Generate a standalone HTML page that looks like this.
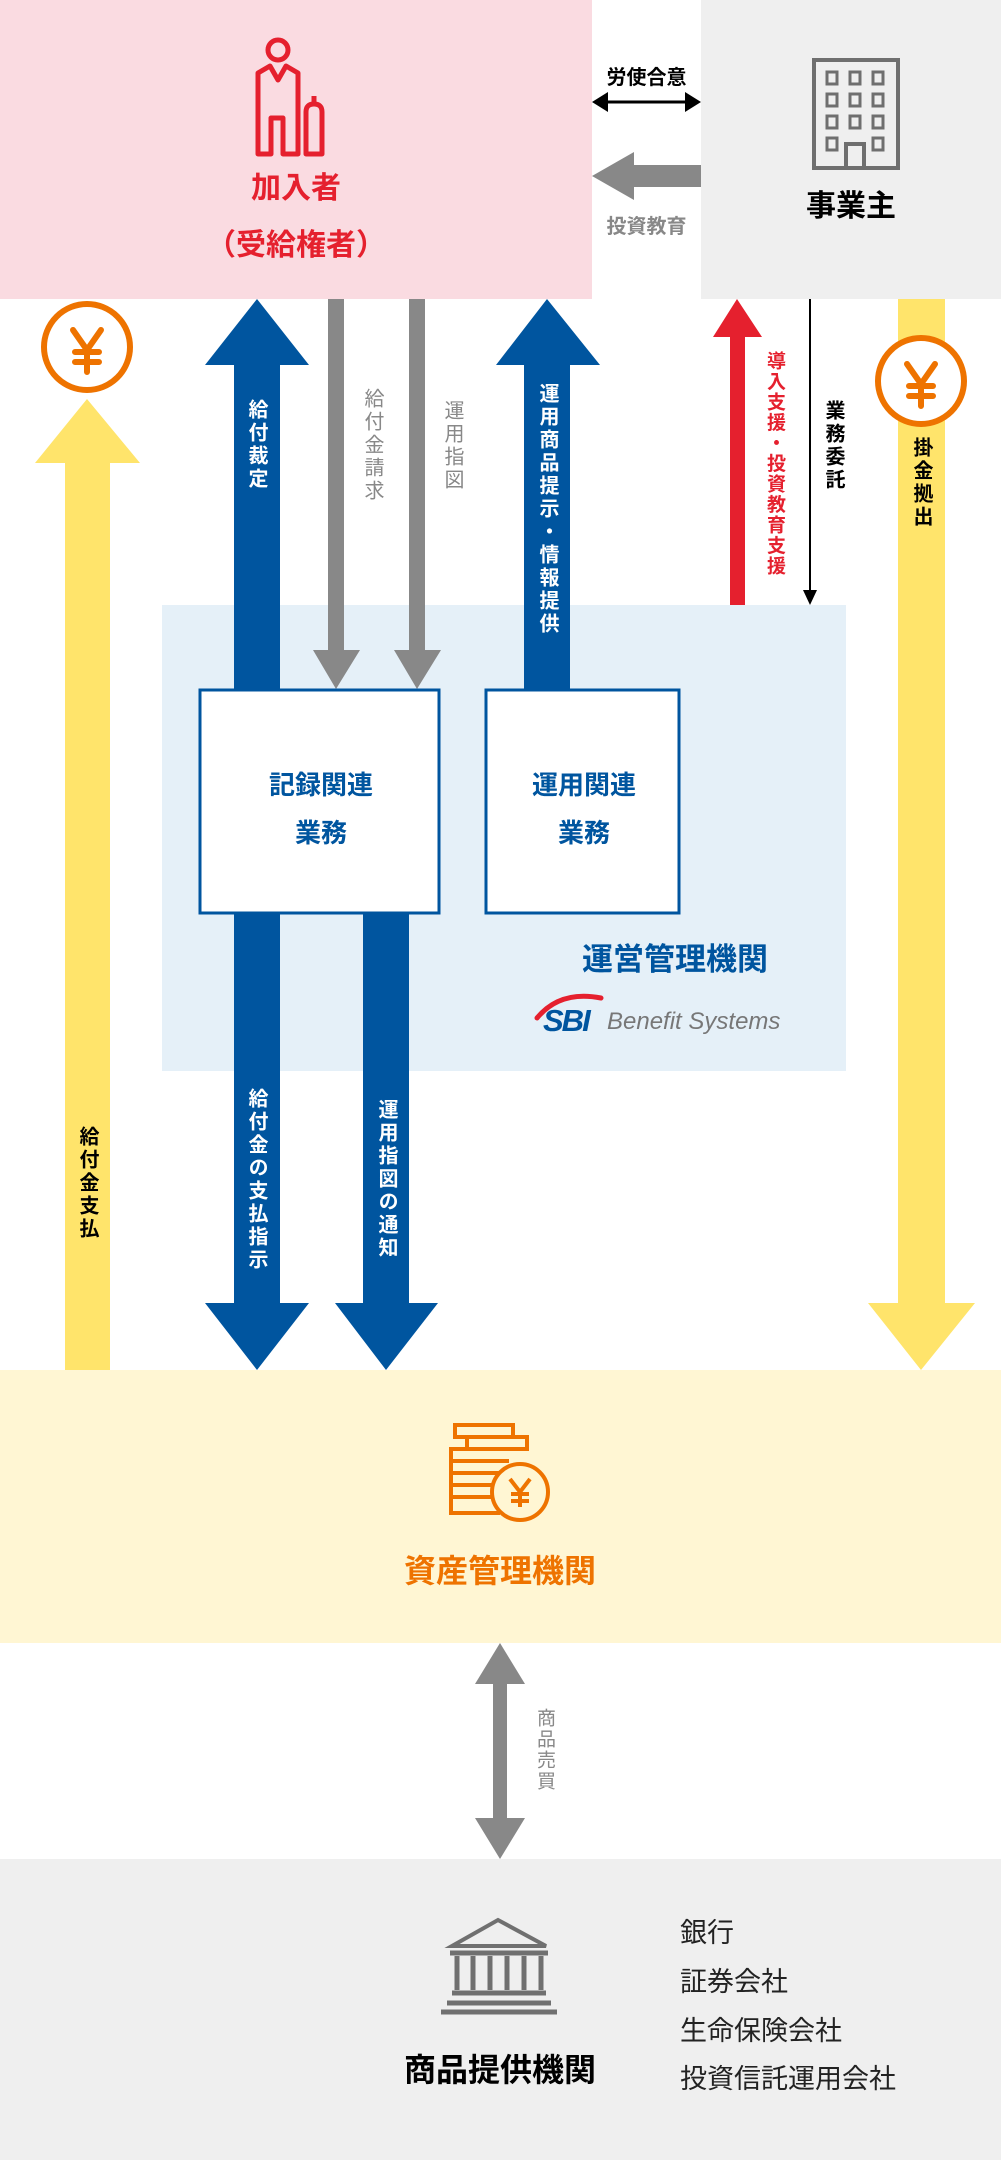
<!DOCTYPE html>
<html><head><meta charset="utf-8"><style>
body{margin:0;width:1001px;height:2160px;position:relative;background:#fff;overflow:hidden;font-family:"Liberation Sans","Noto Sans CJK JP",sans-serif}
.t{position:absolute;white-space:nowrap;font-weight:bold;line-height:1}
.v{position:absolute;writing-mode:vertical-rl;white-space:nowrap;font-weight:bold;line-height:1;font-size:20px;letter-spacing:3px}
svg{position:absolute;left:0;top:0}
</style></head><body>
<svg width="1001" height="2160" viewBox="0 0 1001 2160">
<rect x="0" y="0" width="592" height="299" fill="#fadbe1"/>
<rect x="701" y="0" width="300" height="299" fill="#efefef"/>
<rect x="162" y="605" width="684" height="466" fill="#e5f0f8"/>
<rect x="0" y="1370" width="1001" height="273" fill="#fff6d3"/>
<rect x="0" y="1859" width="1001" height="301" fill="#efefef"/>
<line x1="605" y1="102" x2="688" y2="102" stroke="#000" stroke-width="3"/>
<polygon points="592,102 608,92 608,112" fill="#000"/>
<polygon points="701,102 685,92 685,112" fill="#000"/>
<polygon points="592,176 634,152 634,165 701,165 701,187 634,187 634,200" fill="#888"/>
<g fill="none" stroke="#e5202e" stroke-width="5" stroke-linejoin="round">
<circle cx="278" cy="50" r="10"/>
<path d="M258,154 V73 L270,66 L278,80 L286,66 L298,73 V154 H283 V118 H271 V154 Z"/>
<path d="M306,154 V112 Q306,104 314,104 Q322,104 322,112 V154 Z"/>
<line x1="314" y1="96" x2="314" y2="104"/>
</g>
<g fill="none" stroke="#6f6f6f" stroke-width="4">
<rect x="814" y="60" width="84" height="108"/>
<g stroke-width="3">
<rect x="827" y="72" width="10" height="12"/><rect x="850" y="72" width="10" height="12"/><rect x="873" y="72" width="10" height="12"/>
<rect x="827" y="94" width="10" height="12"/><rect x="850" y="94" width="10" height="12"/><rect x="873" y="94" width="10" height="12"/>
<rect x="827" y="116" width="10" height="12"/><rect x="850" y="116" width="10" height="12"/><rect x="873" y="116" width="10" height="12"/>
<rect x="827" y="138" width="10" height="12"/><rect x="873" y="138" width="10" height="12"/>
</g>
<path d="M846,168 V144 H864 V168"/>
</g>
<polygon points="87,399 140,463 110,463 110,1370 65,1370 65,463 35,463" fill="#ffe46b"/>
<polygon points="898,299 945,299 945,1303 975,1303 921,1370 868,1303 898,1303" fill="#ffe46b"/>
<g fill="#fff" stroke="#ee7300" stroke-width="6">
<circle cx="87" cy="347" r="43"/><circle cx="921" cy="381" r="43"/>
</g>
<g stroke="#ee7300" stroke-width="6" fill="none" stroke-linecap="round">
<path d="M73,330 L87,350 L101,330 M87,350 V372 M75,352 H99 M75,362 H99"/>
<path d="M907,364 L921,384 L935,364 M921,384 V406 M909,386 H933 M909,396 H933"/>
</g>
<polygon points="257,299 309,365 280,365 280,700 234,700 234,365 205,365" fill="#00559f"/>
<polygon points="547,299 600,365 570,365 570,700 524,700 524,365 496,365" fill="#00559f"/>
<polygon points="328,299 344,299 344,650 360,650 336,689 313,650 328,650" fill="#888"/>
<polygon points="409,299 425,299 425,650 441,650 417,689 394,650 409,650" fill="#888"/>
<polygon points="737,299 762,337 745,337 745,605 730,605 730,337 713,337" fill="#e5202e"/>
<line x1="810" y1="299" x2="810" y2="592" stroke="#000" stroke-width="2"/>
<polygon points="803,590 817,590 810,605" fill="#000"/>
<polygon points="234,905 280,905 280,1303 309,1303 257,1370 205,1303 234,1303" fill="#00559f"/>
<polygon points="363,905 409,905 409,1303 438,1303 386,1370 335,1303 363,1303" fill="#00559f"/>
<rect x="200" y="690" width="239" height="223" fill="#fff" stroke="#00559f" stroke-width="3"/>
<rect x="486" y="690" width="193" height="223" fill="#fff" stroke="#00559f" stroke-width="3"/>
<path d="M537,1018 Q560,990 601,998" fill="none" stroke="#e5202e" stroke-width="5" stroke-linecap="round"/>
<g fill="none" stroke="#ee7300" stroke-width="4">
<rect x="455" y="1425" width="58" height="12"/>
<rect x="467" y="1437" width="60" height="12"/>
<path d="M509,1449 H451 V1513 H500 M451,1461 H509 M451,1473 H505 M451,1485 H496 M451,1497 H494"/>
<circle cx="520" cy="1492" r="28" fill="#fff6d3"/>
</g>
<g stroke="#ee7300" stroke-width="4" fill="none">
<path d="M510,1479 L520,1492 L530,1479 M520,1492 V1507 M511,1494 H529 M511,1501 H529"/>
</g>
<polygon points="500,1643 525,1684 507,1684 507,1818 525,1818 500,1859 475,1818 493,1818 493,1684 475,1684" fill="#888"/>
<g fill="none" stroke="#707070" stroke-width="5">
<path d="M452,1946 L498,1920 L546,1946 Z" stroke-width="4"/>
<line x1="450" y1="1953" x2="548" y2="1953"/>
<line x1="457" y1="1956" x2="457" y2="1990"/><line x1="473" y1="1956" x2="473" y2="1990"/><line x1="490" y1="1956" x2="490" y2="1990"/><line x1="507" y1="1956" x2="507" y2="1990"/><line x1="524" y1="1956" x2="524" y2="1990"/><line x1="541" y1="1956" x2="541" y2="1990"/>
<line x1="452" y1="1993" x2="546" y2="1993"/>
<line x1="447" y1="2003" x2="551" y2="2003"/>
<line x1="441" y1="2012" x2="557" y2="2012"/>
</g>
</svg>

<div class="t" style="left:0;width:592px;top:174px;text-align:center;font-size:30px;color:#e5202e">加入者</div>
<div class="t" style="left:0;width:592px;top:231px;text-align:center;font-size:30px;color:#e5202e">（受給権者）</div>
<div class="t" style="left:592px;width:109px;top:68px;text-align:center;font-size:20px;color:#000">労使合意</div>
<div class="t" style="left:592px;width:109px;top:217px;text-align:center;font-size:20px;color:#888">投資教育</div>
<div class="t" style="left:701px;width:300px;top:192px;text-align:center;font-size:30px;color:#000">事業主</div>

<div class="v" style="left:246px;top:399px;color:#fff">給付裁定</div>
<div class="v" style="left:362px;top:388px;color:#888;font-weight:normal">給付金請求</div>
<div class="v" style="left:442px;top:400px;color:#888;font-weight:normal">運用指図</div>
<div class="v" style="left:537px;top:383px;color:#fff">運用商品提示・情報提供</div>
<div class="v" style="left:765px;top:351px;color:#e5202e;letter-spacing:1.5px;font-size:19px">導入支援・投資教育支援</div>
<div class="v" style="left:823px;top:400px;color:#000">業務委託</div>
<div class="v" style="left:911px;top:437px;color:#000">掛金拠出</div>
<div class="v" style="left:77px;top:1126px;color:#000">給付金支払</div>
<div class="v" style="left:246px;top:1088px;color:#fff">給付金の支払指示</div>
<div class="v" style="left:376px;top:1099px;color:#fff">運用指図の通知</div>

<div class="t" style="left:200px;width:242px;top:772px;text-align:center;font-size:26px;color:#00559f">記録関連</div>
<div class="t" style="left:200px;width:242px;top:820px;text-align:center;font-size:26px;color:#00559f">業務</div>
<div class="t" style="left:486px;width:196px;top:772px;text-align:center;font-size:26px;color:#00559f">運用関連</div>
<div class="t" style="left:486px;width:196px;top:820px;text-align:center;font-size:26px;color:#00559f">業務</div>
<div class="t" style="left:560px;width:230px;top:944px;text-align:center;font-size:31px;color:#00559f">運営管理機関</div>
<div class="t" style="left:543px;top:1005px;font-size:31px;font-style:italic;color:#00559f;letter-spacing:-2px">SBI</div>
<div class="t" style="left:607px;top:1010px;font-size:24px;font-style:italic;font-weight:normal;color:#777">Benefit Systems</div>

<div class="t" style="left:300px;width:400px;top:1555px;text-align:center;font-size:32px;color:#ee7300">資産管理機関</div>
<div class="v" style="left:535px;top:1708px;color:#888;font-weight:normal;font-size:19px;letter-spacing:2px">商品売買</div>
<div class="t" style="left:300px;width:400px;top:2054px;text-align:center;font-size:32px;color:#000">商品提供機関</div>
<div class="t" style="left:680px;top:1920px;font-size:27px;font-weight:normal;color:#222">銀行</div>
<div class="t" style="left:680px;top:1969px;font-size:27px;font-weight:normal;color:#222">証券会社</div>
<div class="t" style="left:680px;top:2018px;font-size:27px;font-weight:normal;color:#222">生命保険会社</div>
<div class="t" style="left:680px;top:2066px;font-size:27px;font-weight:normal;color:#222">投資信託運用会社</div>
</body></html>
